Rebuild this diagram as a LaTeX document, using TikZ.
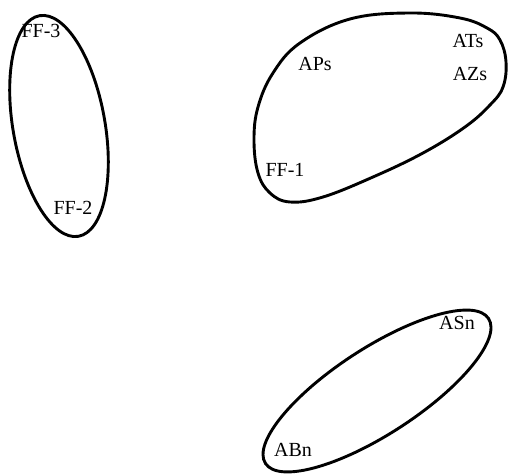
\documentclass[tikz,border=0pt]{standalone}
\usepackage{fontspec}
\setmainfont{Liberation Serif}
\begin{document}
\begin{tikzpicture}[x=1pt,y=1pt,
  blob/.style={draw=black,line width=2.9pt},
  lbl/.style={inner sep=0pt,anchor=base,font=\fontsize{20}{24}\selectfont}]
\useasboundingbox (0,0) rectangle (508,474);
% left ellipse
\draw[blob] (59,348) ellipse[x radius=46,y radius=112,rotate=10];
% bottom ellipse
\draw[blob] (377,83) ellipse[x radius=133,y radius=43,rotate=33];
% top right blob
\draw[blob] plot[smooth cycle,tension=0.65] coordinates {
 (410,461) (460,456) (487,446) (500,434) (506,412) (503,387)
 (490,369) (465,347) (423,321) (373,297) (323,277) (290,272) (270,281)
 (258,301) (254,334) (258,367) (273,401) (300,431) (350,455)};
% labels
\node[lbl] (ff3) at (41,436) {FF-3};
\node[lbl] (ff2) at (73,259) {FF-2};
\node[lbl] (aps) at (315,403) {APs};
\node[lbl] (ats) at (468,426) {ATs};
\node[lbl] (azs) at (470,393) {AZs};
\node[lbl] (ff1) at (285,297) {FF-1};
\node[lbl] (asn) at (457,145) {ASn};
\node[lbl] (abn) at (293,18) {ABn};
\end{tikzpicture}
\end{document}
